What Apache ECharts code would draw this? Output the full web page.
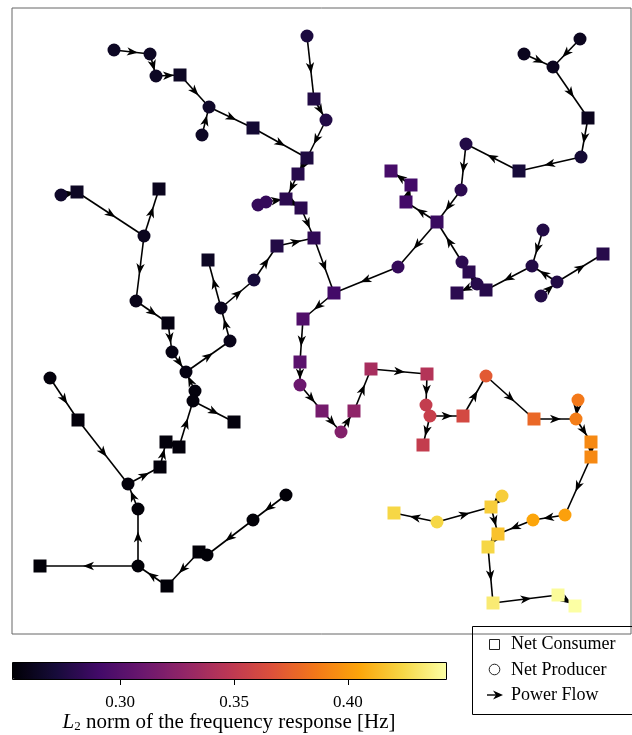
<!DOCTYPE html>
<html>
<head>
<meta charset="utf-8">
<title>Power flow</title>
<script src="https://cdn.jsdelivr.net/npm/echarts@6/dist/echarts.min.js"></script>
<style>
html, body { margin: 0; padding: 0; background: #fff; }
#chart { width: 632px; height: 735px; }
</style>
</head>
<body>
<div id="chart"></div>
<script>
// node layout (layout units), kind: S = net consumer, C = net producer
const nodeX = [102, 138, 144, 168, 197, 190, 241, 295, 295, 302,
    314, 286, 274, 246, 254, 289, 302, 265, 242, 196,
    209, 218, 174, 160, 156, 124, 132, 65, 49, 147,
    183, 181, 222, 167, 154, 148, 116, 126, 126, 28,
    155, 187, 195, 241, 274, 66, 38, 568, 512, 541,
    576, 569, 507, 454, 449, 425, 394, 399, 379, 386,
    322, 450, 457, 465, 474, 445, 520, 531, 545, 529,
    591, 291, 288, 288, 310, 329, 342, 359, 415, 414,
    418, 411, 451, 474, 522, 566, 564, 579, 579, 553,
    521, 486, 479, 490, 425, 382, 476, 481, 546, 563];
const nodeY = [584, 580, 558, 559, 527, 499, 506, 476, 598, 535,
    514, 460, 435, 429, 432, 426, 396, 388, 354, 374,
    326, 293, 262, 282, 311, 333, 398, 442, 439, 445,
    243, 233, 212, 187, 192, 167, 150, 125, 68, 68,
    48, 82, 79, 114, 139, 214, 256, 595, 580, 567,
    516, 477, 463, 490, 444, 412, 432, 449, 463, 367,
    341, 372, 362, 350, 344, 341, 368, 404, 352, 338,
    380, 315, 272, 249, 223, 202, 223, 265, 260, 229,
    218, 189, 218, 258, 215, 234, 215, 192, 177, 119,
    114, 100, 127, 138, 112, 121, 87, 31, 39, 28];
const nodeKind = ['C', 'C', 'C', 'S', 'C', 'C', 'S', 'S', 'C', 'S',
    'C', 'S', 'S', 'C', 'C', 'S', 'S', 'S', 'C', 'S',
    'C', 'C', 'C', 'C', 'S', 'C', 'C', 'S', 'C', 'S',
    'C', 'C', 'S', 'S', 'S', 'S', 'C', 'C', 'C', 'S',
    'S', 'S', 'C', 'C', 'C', 'S', 'C', 'C', 'C', 'C',
    'S', 'C', 'S', 'C', 'C', 'S', 'S', 'S', 'S', 'C',
    'S', 'C', 'S', 'C', 'S', 'S', 'C', 'C', 'C', 'C',
    'S', 'S', 'S', 'C', 'S', 'C', 'S', 'S', 'S', 'C',
    'C', 'S', 'S', 'C', 'S', 'C', 'C', 'S', 'S', 'C',
    'C', 'S', 'S', 'C', 'C', 'S', 'S', 'S', 'S', 'S'];
// L2 norm of the frequency response [Hz]
const nodeL2 = [0.264, 0.264, 0.264, 0.264, 0.266, 0.264, 0.270, 0.275, 0.274, 0.277,
    0.277, 0.279, 0.281, 0.285, 0.285, 0.281, 0.283, 0.277, 0.272, 0.264,
    0.262, 0.260, 0.258, 0.258, 0.258, 0.260, 0.262, 0.264, 0.266, 0.262,
    0.256, 0.256, 0.256, 0.255, 0.255, 0.255, 0.255, 0.254, 0.254, 0.254,
    0.254, 0.254, 0.254, 0.254, 0.254, 0.255, 0.255, 0.262, 0.262, 0.262,
    0.262, 0.270, 0.272, 0.277, 0.281, 0.287, 0.291, 0.291, 0.293, 0.285,
    0.291, 0.281, 0.281, 0.279, 0.279, 0.281, 0.277, 0.277, 0.277, 0.277,
    0.279, 0.298, 0.302, 0.310, 0.315, 0.321, 0.327, 0.338, 0.344, 0.352,
    0.354, 0.352, 0.361, 0.371, 0.378, 0.386, 0.388, 0.393, 0.393, 0.403,
    0.405, 0.416, 0.420, 0.420, 0.424, 0.424, 0.424, 0.433, 0.441, 0.443];
// power flow direction: edgeFrom[i] -> edgeTo[i]
const edgeFrom = [0, 1, 2, 3, 5, 4, 6, 8, 9, 10, 7, 11, 13, 14, 12, 15, 17, 18, 20, 20,
    21, 22, 23, 24, 25, 26, 27, 28, 26, 30, 31, 31, 33, 34, 35, 36, 37, 38, 38, 40,
    41, 42, 43, 44, 45, 46, 16, 47, 48, 49, 50, 51, 52, 53, 54, 55, 56, 57, 55, 59,
    61, 62, 63, 64, 63, 66, 67, 68, 69, 68, 60, 71, 72, 73, 74, 75, 76, 77, 78, 79,
    80, 80, 82, 83, 84, 85, 86, 87, 88, 89, 90, 92, 93, 94, 94, 91, 96, 97, 98];
const edgeTo = [1, 2, 3, 4, 4, 6, 7, 9, 10, 7, 11, 12, 14, 12, 15, 16, 16, 17, 18, 19,
    20, 21, 22, 23, 24, 25, 26, 27, 29, 22, 30, 32, 31, 33, 34, 35, 36, 37, 39, 38,
    40, 41, 42, 43, 36, 45, 60, 49, 49, 50, 51, 52, 53, 54, 55, 56, 57, 58, 59, 60,
    55, 61, 62, 63, 65, 64, 66, 66, 68, 70, 71, 72, 73, 74, 75, 76, 77, 78, 79, 80,
    81, 82, 83, 84, 86, 86, 87, 88, 89, 90, 91, 91, 92, 92, 95, 96, 97, 98, 99];
const colorMin = 0.2526;
const colorMax = 0.443;
const colorTicks = [0.30, 0.35, 0.40];

const inferno = ['#000004', '#160b39', '#420a68', '#6a176e', '#932667', '#bc3754',
    '#dd513a', '#f37819', '#fca50a', '#f6d746', '#fcffa4'];

const edgeData = edgeFrom.map(function (f, i) {
    const t = edgeTo[i];
    return [nodeX[f], nodeY[f], nodeX[t], nodeY[t]];
});
const nodeData = nodeX.map(function (x, i) {
    return {
        value: [x, nodeY[i], nodeL2[i]],
        symbol: nodeKind[i] === 'S' ? 'rect' : 'circle'
    };
});

// line with an arrow head half way along
function renderEdge(params, api) {
    const a = api.coord([api.value(0), api.value(1)]);
    const b = api.coord([api.value(2), api.value(3)]);
    const dx = b[0] - a[0], dy = b[1] - a[1];
    const len = Math.sqrt(dx * dx + dy * dy) || 1;
    const ux = dx / len, uy = dy / len;
    const mx = (a[0] + b[0]) / 2, my = (a[1] + b[1]) / 2;
    function pt(f, s) {
        return [mx + ux * f - uy * s, my + uy * f + ux * s];
    }
    return {
        type: 'group',
        children: [
            {
                type: 'line',
                shape: { x1: a[0], y1: a[1], x2: b[0], y2: b[1] },
                style: { stroke: '#000', lineWidth: 1.6 }
            },
            {
                type: 'polygon',
                shape: { points: [pt(6, 0), pt(-5, 4.2), pt(-2, 0), pt(-5, -4.2)] },
                style: { fill: '#000' }
            }
        ]
    };
}

const serif = '"Liberation Serif", "DejaVu Serif", serif';

let option = {
    animation: false,
    backgroundColor: '#fff',
    grid: [
        {
            left: 12, top: 8, width: 619, height: 626,
            show: true, borderColor: '#666', borderWidth: 1
        },
        {
            left: 12, top: 662, width: 434, height: 17
        }
    ],
    xAxis: [
        { gridIndex: 0, type: 'value', min: 0, max: 619, show: false },
        {
            gridIndex: 1, type: 'value', min: colorMin, max: colorMax,
            axisLine: { show: false },
            splitLine: { show: false },
            axisTick: {
                show: true, customValues: colorTicks, length: 6,
                lineStyle: { color: '#000', width: 1 }
            },
            axisLabel: {
                customValues: colorTicks, margin: 15,
                color: '#000', fontFamily: serif, fontSize: 17,
                formatter: function (v) { return v.toFixed(2); }
            },
            name: '{i|L}{s|2} norm of the frequency response [Hz]',
            nameLocation: 'middle',
            nameGap: 32,
            nameTextStyle: {
                color: '#000', fontFamily: serif, fontSize: 21,
                rich: {
                    i: { fontFamily: serif, fontSize: 21, fontStyle: 'italic', color: '#000' },
                    s: { fontFamily: serif, fontSize: 13, color: '#000', padding: [8, 0, 0, 0] }
                }
            }
        }
    ],
    yAxis: [
        { gridIndex: 0, type: 'value', min: 0, max: 626, show: false },
        { gridIndex: 1, type: 'value', min: 0, max: 1, show: false }
    ],
    visualMap: {
        type: 'continuous',
        seriesIndex: 1,
        dimension: 2,
        min: colorMin,
        max: colorMax,
        orient: 'horizontal',
        left: 12,
        top: 662,
        itemWidth: 17,
        itemHeight: 434,
        padding: 0,
        calculable: false,
        text: null,
        showLabel: false,
        inRange: { color: inferno }
    },
    graphic: [
        {
            type: 'rect', z: 100,
            shape: { x: 12.5, y: 662.5, width: 434, height: 17 },
            style: { fill: null, stroke: '#000', lineWidth: 1 }
        },
        {
            type: 'group', z: 100,
            children: [
                {
                    type: 'rect',
                    shape: { x: 472.5, y: 626.5, width: 170, height: 88 },
                    style: { fill: null, stroke: '#000', lineWidth: 1 }
                },
                {
                    type: 'rect',
                    shape: { x: 489.5, y: 639.5, width: 10, height: 10 },
                    style: { fill: '#fff', stroke: '#222', lineWidth: 1 }
                },
                {
                    type: 'circle',
                    shape: { cx: 494.5, cy: 669.5, r: 5.3 },
                    style: { fill: '#fff', stroke: '#222', lineWidth: 1 }
                },
                {
                    type: 'line',
                    shape: { x1: 487, y1: 695, x2: 500, y2: 695 },
                    style: { stroke: '#000', lineWidth: 1.4 }
                },
                {
                    type: 'polygon',
                    shape: { points: [[503, 695], [493, 690.5], [496, 695], [493, 699.5]] },
                    style: { fill: '#000' }
                },
                {
                    type: 'text',
                    style: { x: 511, y: 644.5, text: 'Net Consumer', font: '18px ' + serif, fill: '#000', verticalAlign: 'middle' }
                },
                {
                    type: 'text',
                    style: { x: 511, y: 670, text: 'Net Producer', font: '18px ' + serif, fill: '#000', verticalAlign: 'middle' }
                },
                {
                    type: 'text',
                    style: { x: 511, y: 695, text: 'Power Flow', font: '18px ' + serif, fill: '#000', verticalAlign: 'middle' }
                }
            ]
        }
    ],
    series: [
        {
            name: 'Power Flow',
            type: 'custom',
            xAxisIndex: 0,
            yAxisIndex: 0,
            renderItem: renderEdge,
            encode: { x: [0, 2], y: [1, 3] },
            data: edgeData,
            clip: true,
            z: 1,
            silent: true
        },
        {
            name: 'Buses',
            type: 'scatter',
            xAxisIndex: 0,
            yAxisIndex: 0,
            symbolSize: 13,
            itemStyle: { opacity: 1 },
            data: nodeData,
            z: 2,
            silent: true
        }
    ]
};

const chart = echarts.init(document.getElementById('chart'));
chart.setOption(option);
window.addEventListener('resize', function () {
    chart.resize();
});
</script>
</body>
</html>
